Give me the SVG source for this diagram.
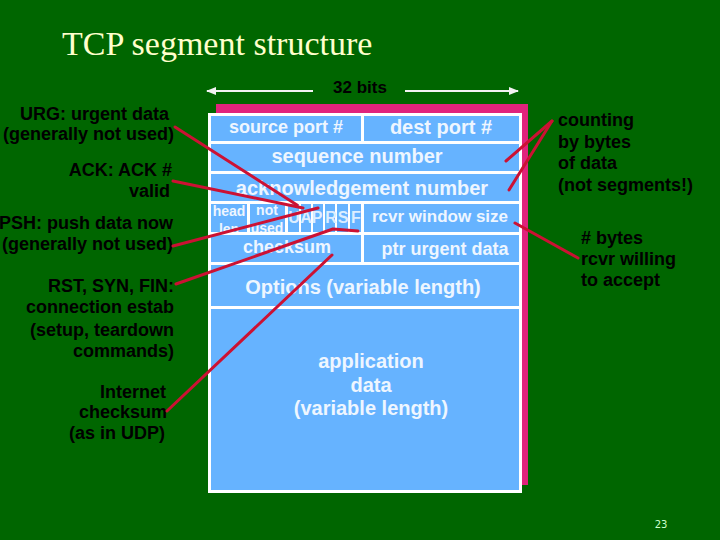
<svg xmlns="http://www.w3.org/2000/svg" width="720" height="540" viewBox="0 0 720 540">
<style>
.lbl{font-family:"Liberation Sans",Arial,sans-serif;font-weight:bold;font-size:18px;fill:#000}
.cell{fill:#66B3FF}
.ct{font-family:"Liberation Sans",Arial,sans-serif;font-weight:bold;font-size:20px;fill:#EEF6FF;text-anchor:middle}
.sm{font-family:"Liberation Sans",Arial,sans-serif;font-weight:bold;font-size:14px;fill:#EEF6FF;text-anchor:middle}
.fl{font-family:"Liberation Sans",Arial,sans-serif;font-weight:bold;font-size:16px;fill:#DCEEFF;text-anchor:middle}
.con{fill:none;stroke:#CC1133;stroke-width:3;stroke-linecap:round;stroke-linejoin:round}
.end{text-anchor:end}
</style>
<defs>
<marker id="ah" viewBox="0 0 10 10" refX="9" refY="5" markerWidth="5" markerHeight="5" orient="auto-start-reverse">
<path d="M0,1 L10,5 L0,9 Z" fill="#F2F2F2"/>
</marker>
<clipPath id="clipHead"><rect x="211" y="204" width="36" height="28"/></clipPath>
<clipPath id="clipNot"><rect x="250" y="204" width="35" height="28"/></clipPath>
</defs>
<rect width="720" height="540" fill="#006600"/>
<text x="62" y="55" font-family="'Liberation Serif','Times New Roman',serif" font-size="34" fill="#FFFFCC">TCP segment structure</text>
<g id="width-label">
<text x="360" y="93" font-family="'Liberation Sans',Arial,sans-serif" font-weight="bold" font-size="17" text-anchor="middle" fill="#000">32 bits</text>
<line x1="313" y1="91" x2="207" y2="91" stroke="#F2F2F2" stroke-width="2" marker-end="url(#ah)"/>
<line x1="405" y1="91" x2="518" y2="91" stroke="#F2F2F2" stroke-width="2" marker-end="url(#ah)"/>
</g>
<g id="segment">
<rect x="216" y="104" width="312" height="381" fill="#E0237C"/>
<rect x="208" y="113" width="314" height="380" fill="#FFFFFF"/>
<g id="row-ports">
<rect class="cell" x="211" y="116" width="150" height="25"/>
<rect class="cell" x="364" y="116" width="155" height="25"/>
<text class="ct" x="286" y="133" style="font-size:18px">source port #</text>
<text class="ct" x="441" y="134">dest port #</text>
</g>
<g id="row-seq">
<rect class="cell" x="211" y="144" width="308" height="27"/>
<text class="ct" x="357" y="163">sequence number</text>
</g>
<g id="row-ack">
<rect class="cell" x="211" y="174" width="308" height="27"/>
<text class="ct" x="362" y="195">acknowledgement number</text>
</g>
<g id="row-flags">
<rect class="cell" x="211" y="204" width="36" height="28"/>
<rect class="cell" x="250" y="204" width="35" height="28"/>
<rect class="cell" x="288" y="204" width="11" height="28"/>
<rect class="cell" x="301" y="204" width="10" height="28"/>
<rect class="cell" x="313" y="204" width="10" height="28"/>
<rect class="cell" x="325" y="204" width="10" height="28"/>
<rect class="cell" x="337" y="204" width="11" height="28"/>
<rect class="cell" x="350" y="204" width="11" height="28"/>
<rect class="cell" x="364" y="204" width="155" height="28"/>
<g clip-path="url(#clipHead)">
<text class="sm" x="229" y="216">head</text>
<text class="sm" x="229" y="234">len</text>
</g>
<g clip-path="url(#clipNot)">
<text class="sm" x="267" y="215">not</text>
<text class="sm" x="267" y="233">used</text>
</g>
<text class="fl" x="294" y="223">U</text>
<text class="fl" x="306" y="223">A</text>
<text class="fl" x="317" y="223">P</text>
<text class="fl" x="331" y="223">R</text>
<text class="fl" x="343" y="223">S</text>
<text class="fl" x="356" y="223">F</text>
<text class="ct" x="440" y="222" style="font-size:17px">rcvr window size</text>
</g>
<g id="row-checksum">
<rect class="cell" x="211" y="235" width="150" height="27"/>
<rect class="cell" x="364" y="235" width="155" height="27"/>
<text class="ct" x="287" y="253" style="font-size:18px">checksum</text>
<text class="ct" x="445" y="255" style="font-size:18px">ptr urgent data</text>
</g>
<g id="row-options">
<rect class="cell" x="211" y="265" width="308" height="41"/>
<text class="ct" x="363" y="294">Options (variable length)</text>
</g>
<g id="row-data">
<rect class="cell" x="211" y="309" width="308" height="181"/>
<text class="ct" x="371" y="368">application</text>
<text class="ct" x="371" y="392">data</text>
<text class="ct" x="371" y="415">(variable length)</text>
</g>
</g>
<g id="label-urg">
<text class="lbl end" x="169" y="120">URG: urgent data</text>
<text class="lbl end" x="174" y="140">(generally not used)</text>
</g>
<g id="label-ack">
<text class="lbl end" x="172" y="176">ACK: ACK #</text>
<text class="lbl end" x="170" y="197">valid</text>
</g>
<g id="label-psh">
<text class="lbl end" x="173" y="229">PSH: push data now</text>
<text class="lbl end" x="173" y="250">(generally not used)</text>
</g>
<g id="label-rst">
<text class="lbl end" x="174" y="292">RST, SYN, FIN:</text>
<text class="lbl end" x="174" y="313">connection estab</text>
<text class="lbl end" x="174" y="336">(setup, teardown</text>
<text class="lbl end" x="174" y="357">commands)</text>
</g>
<g id="label-checksum">
<text class="lbl end" x="166" y="398">Internet</text>
<text class="lbl end" x="167" y="418">checksum</text>
<text class="lbl end" x="165" y="439">(as in UDP)</text>
</g>
<g id="label-counting">
<text class="lbl" x="558" y="126">counting</text>
<text class="lbl" x="558" y="148">by bytes</text>
<text class="lbl" x="558" y="169">of data</text>
<text class="lbl" x="558" y="191">(not segments!)</text>
</g>
<g id="label-window">
<text class="lbl" x="581" y="244"># bytes</text>
<text class="lbl" x="581" y="265">rcvr willing</text>
<text class="lbl" x="581" y="286">to accept</text>
</g>
<g id="connectors">
<line class="con" x1="175" y1="127" x2="297" y2="205"/>
<line class="con" x1="173" y1="181" x2="303" y2="208"/>
<line class="con" x1="173" y1="246" x2="318" y2="208"/>
<polyline class="con" points="176,284 333,229 358,231"/>
<line class="con" x1="167" y1="411" x2="332" y2="255"/>
<line class="con" x1="552" y1="121" x2="506" y2="161"/>
<line class="con" x1="552" y1="121" x2="509" y2="190"/>
<line class="con" x1="515" y1="223" x2="578" y2="258"/>
</g>
<text x="661" y="528" font-family="'DejaVu Sans',sans-serif" font-size="10" text-anchor="middle" fill="#CCFFCC">23</text>
</svg>
